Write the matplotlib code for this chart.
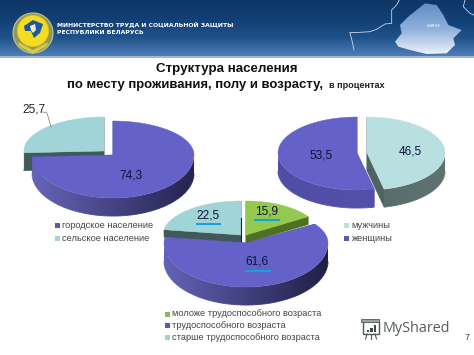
import numpy as np
import matplotlib
matplotlib.use("Agg")
import matplotlib.pyplot as plt
from matplotlib.patches import Polygon, Circle, Rectangle
from matplotlib.collections import LineCollection
from matplotlib.colors import LinearSegmentedColormap, to_rgb

# ---- data ----
place_labels = ["городское население", "сельское население"]
place_values = [74.3, 25.7]
sex_labels = ["мужчины", "женщины"]
sex_values = [46.5, 53.5]
age_labels = ["моложе трудоспособного возраста", "трудоспособного возраста", "старше трудоспособного возраста"]
age_values = [15.9, 61.6, 22.5]
title_line1 = "Структура населения"
title_line2 = "по месту проживания, полу и возрасту,"
title_unit = "в процентах"
header_lines = ["МИНИСТЕРСТВО ТРУДА И СОЦИАЛЬНОЙ ЗАЩИТЫ", "РЕСПУБЛИКИ БЕЛАРУСЬ"]

PURPLE = "#6462c9"
TEAL = "#a1d4d6"
PALE = "#b9e0e1"
GREEN = "#94c94f"

plt.rcParams["font.family"] = ["Liberation Sans", "DejaVu Sans"]
fig = plt.figure(figsize=(4.74, 3.55), dpi=100, facecolor="white")
ax = fig.add_axes([0, 0, 1, 1])
ax.set_xlim(0, 474)
ax.set_ylim(355, 0)
ax.set_aspect("auto")
ax.axis("off")
ax.autoscale(False)


def rim(t, c):
    cx, cy, rx, rt, rb = c
    t = np.radians(t)
    co = np.cos(t)
    return cx + rx * np.sin(t), cy - np.where(co > 0, rt, rb) * co


def wedge(start, share, geom, top, wall_l, wall_r, cut, depth, z):
    """Extruded elliptical wedge; share is a percentage, clockwise from the top."""
    end = start + share * 3.6
    ts = np.linspace(start, end, 240)
    x, y = rim(ts, geom)
    cx, cy = geom[0], geom[1]
    for xe, ye in [(x[0], y[0]), (x[-1], y[-1])]:
        ax.add_patch(Polygon([(cx, cy), (xe, ye), (xe, ye + depth), (cx, cy + depth)],
                             closed=True, fc=cut, ec=cut, lw=0.3, zorder=z))
    # outer wall: horizontal gradient clipped to the visible part of the rim
    vis = np.cos(np.radians(ts)) <= 0
    if vis.any():
        xv, yv = x[vis], y[vis]
        outline = np.r_[np.column_stack([xv, yv]), np.column_stack([xv, yv + depth])[::-1]]
        clip = Polygon(outline, closed=True, fc="none", ec="none", zorder=z)
        ax.add_patch(clip)
        xmin, xmax = cx - geom[2], cx + geom[2]
        cm = LinearSegmentedColormap.from_list("w", [wall_l, wall_r])
        im = ax.imshow(np.linspace(0, 1, 256)[None, :], extent=(xmin, xmax, cy + geom[4] + depth + 2, cy - 5),
                       aspect="auto", cmap=cm, zorder=z, interpolation="bilinear")
        im.set_clip_path(clip)
        pts = np.column_stack([xv, yv + depth])
        segs = np.stack([pts[:-1], pts[1:]], axis=1)
        f = np.clip((xv[:-1] - xmin) / (xmax - xmin), 0, 1)[:, None]
        cols = np.array(to_rgb(wall_l)) * (1 - f) + np.array(to_rgb(wall_r)) * f
        ax.add_collection(LineCollection(segs, colors=cols, linewidths=0.7, zorder=z + 0.1), autolim=False)
    pts = np.column_stack([np.r_[cx, x], np.r_[cy, y]])
    ax.add_patch(Polygon(pts, closed=True, fc=top, ec=top, lw=0.3, zorder=z + 0.5))


# ---- header ----
cmap = LinearSegmentedColormap.from_list("hdr", ["#0e3767", "#123f74", "#1f5189", "#4d7db5"])
ax.imshow(np.linspace(0, 1, 64)[:, None], extent=(0, 474, 56, 0), aspect="auto", cmap=cmap, zorder=1)
ax.add_patch(Rectangle((0, 56), 474, 2, fc="#9fb6d8", ec="none", zorder=1))

ax.add_patch(Circle((33, 33), 20, fc="#8f9a5a", ec="#c8c47a", lw=0.8, zorder=2))
ax.add_patch(Circle((33, 31), 15.5, fc="#f4dc22", ec="#e8c81a", lw=0.6, zorder=3))
ax.add_patch(Polygon([(24, 26), (33, 20), (43, 24), (40, 33), (34, 38), (31, 31), (25, 31)],
                     closed=True, fc="#1c5aa0", ec="none", zorder=4))
ax.add_patch(Polygon([(30, 26), (35, 24), (36, 30), (33, 33), (31, 30)],
                     closed=True, fc="#f5efc0", ec="none", zorder=5))
ax.add_patch(Polygon([(18, 42), (33, 50), (48, 42), (47, 46), (33, 54), (19, 46)],
                     closed=True, fc="#d8c84a", ec="none", zorder=4))

ax.text(57, 25.3, header_lines[0], color="white", fontsize=4.4, fontweight="bold",
        family="DejaVu Sans", ha="left", va="center", zorder=6)
ax.text(57, 32.2, header_lines[1], color="white", fontsize=4.4, fontweight="bold",
        family="DejaVu Sans", ha="left", va="center", zorder=6)

map_xy = np.array([(1185, 125), (1205, 100), (1200, 75), (1225, 50), (1250, 30), (1275, 10),
                   (1310, 15), (1330, 45), (1345, 75), (1385, 90), (1360, 115), (1365, 135),
                   (1340, 160), (1280, 162), (1230, 150), (1195, 140)]) / 3
map_poly = Polygon(map_xy, closed=True, fc="none", ec="none", zorder=3)
ax.add_patch(map_poly)
mcmap = LinearSegmentedColormap.from_list("map", ["#5f8cc6", "#8fb0dc", "#f2f6fc"])
im = ax.imshow(np.linspace(0, 1, 64)[:, None], extent=(390, 465, 56, 2), aspect="auto", cmap=mcmap, zorder=3)
im.set_clip_path(map_poly)
ax.text(434, 26, "г.МИНСК", color="white", fontsize=2.6, ha="center", va="center", zorder=6)
for seg in [[(1050, 98), (1080, 97), (1110, 95), (1130, 88), (1155, 72), (1175, 70), (1175, 30), (1190, 15), (1198, 0)],
            [(1050, 98), (1058, 130), (1062, 150)],
            [(1395, 0), (1390, 20), (1410, 40), (1422, 45)]]:
    s = np.array(seg) / 3
    ax.plot(s[:, 0], s[:, 1], color="#c8d8ec", lw=0.6, zorder=2)

# ---- title ----
ax.text(227, 69, title_line1, fontsize=9.6, fontweight="bold", color="#111111", ha="center", va="center", zorder=6)
ax.text(67.5, 85, title_line2, fontsize=9.45, fontweight="bold", color="#111111", ha="left", va="center", zorder=6)
ax.text(329.5, 86, title_unit, fontsize=6.6, fontweight="bold", color="#222222", ha="left", va="center", zorder=6)

# ---- pie 1: place of residence ----
wedge(360 - place_values[1] * 3.6, place_values[1], (104, 151, 80, 34, 40), TEAL, "#3f5a58", "#3f5a58", "#3f5a58", 18, 10)
wedge(0, place_values[0], (113, 155, 81, 34, 43), PURPLE, "#6664b8", "#24244f", "#3f3e80", 18, 11)

# ---- pie 2: sex ----
wedge(0, sex_values[0], (367, 153, 78, 36, 37), PALE, "#4f6462", "#5f7472", "#4f6462", 18, 10)
wedge(sex_values[0] * 3.6, sex_values[1], (357, 153, 79, 36, 37), PURPLE, "#4f4da4", "#5452ae", "#5250a8", 18, 10)

# ---- pie 3: age ----
wedge(360 - age_values[2] * 3.6, age_values[2], (241, 235, 78, 34, 40), TEAL, "#3f5a58", "#3f5a58", "#3f5a58", 7.5, 20)
wedge(0, age_values[0], (246, 235, 74, 34, 40), GREEN, "#4f7022", "#4f7022", "#4f7022", 8, 20)
wedge(age_values[0] * 3.6, age_values[1], (246, 243, 82, 35, 44), PURPLE, "#6462b8", "#1f1f45", "#3f3e80", 18, 22)
ax.plot([241, 241], [218, 241], color="#222222", lw=0.8, zorder=21)

# ---- value labels ----
lab = dict(fontsize=8.6, color="#10123a", ha="center", va="center", zorder=30)
ax.text(131, 176, f"{place_values[0]:.1f}".replace(".", ","), **lab)
ax.text(34, 109, f"{place_values[1]:.1f}".replace(".", ","), **{**lab, "color": "#222222"})
ax.plot([43, 47, 51], [112, 113, 127], color="#777777", lw=0.5, zorder=30)
ax.text(410, 152, f"{sex_values[0]:.1f}".replace(".", ","), **lab)
ax.text(321, 156, f"{sex_values[1]:.1f}".replace(".", ","), **lab)
ax.text(208, 216, f"{age_values[2]:.1f}".replace(".", ","), **lab)
ax.text(267, 212, f"{age_values[0]:.1f}".replace(".", ","), **lab)
ax.text(257, 262, f"{age_values[1]:.1f}".replace(".", ","), **lab)
for x0, x1, y in [(196, 221, 224), (254, 280, 220), (245, 271, 271)]:
    ax.plot([x0, x1], [y, y], color="#12a5dc", lw=1.5, solid_capstyle="butt", zorder=29)


# ---- legends ----
def legend(x, ys, labels, colors):
    for y, t, c in zip(ys, labels, colors):
        ax.add_patch(Rectangle((x, y - 2.5), 5, 5, fc=c, ec="none", zorder=30))
        ax.text(x + 7.5, y, t, fontsize=6.7, color="#444444", ha="left", va="center", zorder=30)


legend(55, [225, 238.5], place_labels, ["#5a58b8", TEAL])
legend(344, [225, 238.5], sex_labels, [PALE, "#5a58b8"])
legend(165, [314, 325.5, 337], age_labels, ["#8fb85a", "#5a58b8", TEAL])

# ---- watermark and page number ----
ax.text(383, 328.5, "MyShared", fontsize=10.4, color="#555c5c", ha="left", va="center", zorder=30,
        family="Open Sans")
ax.add_patch(Rectangle((363, 321), 16, 13, fc="none", ec="#4f5a58", lw=1.0, zorder=30))
ax.add_patch(Rectangle((361, 318.5), 18, 3.5, fc="#9aa5a3", ec="#4f5a58", lw=0.6, zorder=30))
for x0, h in [(367, 2.5), (370.5, 4.5), (374, 7)]:
    ax.add_patch(Rectangle((x0, 332 - h), 2.2, h, fc="#3f4a48", ec="none", zorder=30))
for x0, x1 in [(367, 365.5), (371, 371), (375, 376.5)]:
    ax.plot([x0, x1], [334, 339], color="#4f5a58", lw=0.8, zorder=30)
ax.text(467, 338, "7", fontsize=6.5, color="#444444", ha="center", va="center", zorder=30)

fig.savefig("out.png", dpi=100, facecolor="white")
